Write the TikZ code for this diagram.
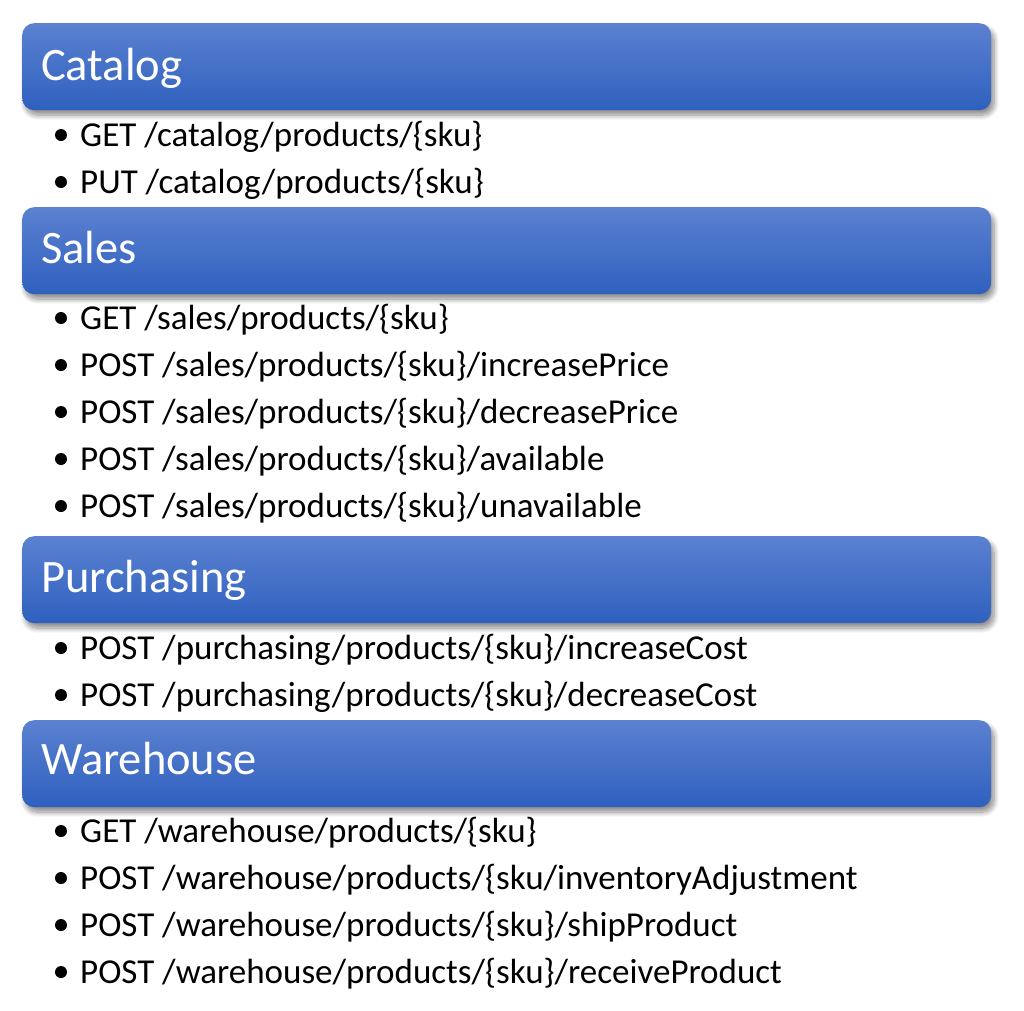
\documentclass[tikz,border=0pt]{standalone}
\usepackage{fontspec}
\setmainfont{Carlito}
\usetikzlibrary{shadows.blur}
\definecolor{hdrtop}{HTML}{5B81D0}
\definecolor{hdrbot}{HTML}{2F60BF}
\tikzset{
  hdr/.style={rounded corners=12pt, top color=hdrtop, bottom color=hdrbot, draw=none,
    minimum width=969pt, minimum height=87pt, anchor=north west, inner sep=0pt,
    blur shadow={shadow xshift=3pt, shadow yshift=-5pt, shadow blur steps=10, shadow blur radius=5pt, shadow opacity=45}},
  hdrtxt/.style={anchor=base west, inner sep=0pt, text=white, font=\fontsize{46.5}{52}\selectfont},
  item/.style={anchor=base west, inner sep=0pt, text=black, font=\fontsize{35}{42}\selectfont},
  bul/.style={circle, fill=black, inner sep=0pt, minimum size=12pt}
}
\newcommand{\apiitem}[3]{%
  \node[bul] (#1b) at (61,#2-11) {};
  \node[item] (#1) at (80,#2) {#3};}
\begin{document}
\begin{tikzpicture}[x=1pt,y=-1pt]
\useasboundingbox (0,0) rectangle (1024,1010);
% Catalog
\node[hdr] (catalog) at (22,23) {};
\node[hdrtxt] (catalogt) at (41,80) {Catalog};
\apiitem{c1}{146}{GET /catalog/products/\{sku\}}
\apiitem{c2}{193}{PUT /catalog/products/\{sku\}}
% Sales
\node[hdr] (sales) at (22,207) {};
\node[hdrtxt] (salest) at (41,263) {Sales};
\apiitem{s1}{329}{GET /sales/products/\{sku\}}
\apiitem{s2}{376}{POST /sales/products/\{sku\}/increasePrice}
\apiitem{s3}{423}{POST /sales/products/\{sku\}/decreasePrice}
\apiitem{s4}{470}{POST /sales/products/\{sku\}/available}
\apiitem{s5}{517}{POST /sales/products/\{sku\}/unavailable}
% Purchasing
\node[hdr] (purch) at (22,536) {};
\node[hdrtxt] (purcht) at (41,592) {Purchasing};
\apiitem{p1}{659}{POST /purchasing/products/\{sku\}/increaseCost}
\apiitem{p2}{706}{POST /purchasing/products/\{sku\}/decreaseCost}
% Warehouse
\node[hdr] (wh) at (22,720) {};
\node[hdrtxt] (wht) at (41,774) {Warehouse};
\apiitem{w1}{842}{GET /warehouse/products/\{sku\}}
\apiitem{w2}{889}{POST /warehouse/products/\{sku/inventoryAdjustment}
\apiitem{w3}{936}{POST /warehouse/products/\{sku\}/shipProduct}
\apiitem{w4}{983}{POST /warehouse/products/\{sku\}/receiveProduct}
\end{tikzpicture}
\end{document}
